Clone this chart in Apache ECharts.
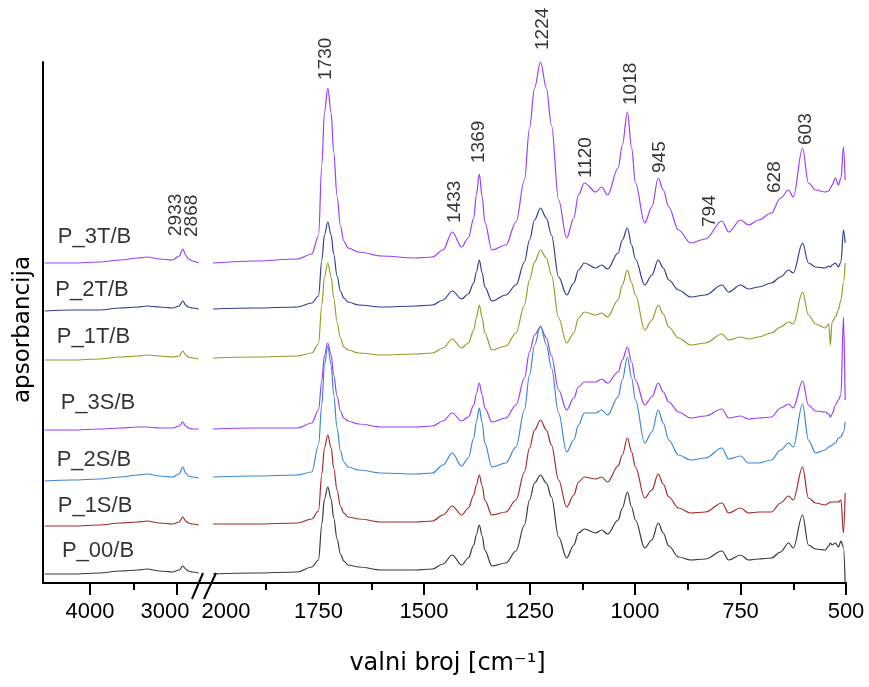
<!DOCTYPE html>
<html><head><meta charset="utf-8">
<script src="https://cdn.jsdelivr.net/npm/echarts@6/dist/echarts.min.js"></script>
<style>html,body{margin:0;padding:0;background:#fff}#c{width:869px;height:687px}</style>
</head><body><div id="c"></div>
<script>
// ---- data (absorbance, arbitrary stacked units) ----
const wnLeft = [4520, 4200, 3900, 3650, 3450, 3345, 3200, 3050, 2975, 2933, 2900, 2868, 2820, 2750];
const wnRight = [2000, 1900, 1800, 1766, 1750, 1742, 1736, 1728, 1720, 1714,
  1706, 1698, 1690, 1680, 1655, 1600, 1520, 1480, 1455, 1433,
  1411, 1395, 1382, 1376, 1369, 1362, 1356, 1339, 1306, 1282,
  1262, 1250, 1238, 1224, 1210, 1198, 1181, 1162, 1145, 1134,
  1120, 1093, 1079, 1065, 1040, 1030, 1018, 1008, 999, 977,
  960, 945, 933, 920, 897, 868, 833, 794, 778, 750,
  731, 707, 677, 655, 636, 625, 603, 589, 572, 549,
  541, 537, 533, 525, 518, 512, 506, 502];
const sampleNames = ['P_3T/B', 'P_2T/B', 'P_1T/B', 'P_3S/B', 'P_2S/B', 'P_1S/B', 'P_00/B'];

const left_P3T = [320, 320, 321, 323, 325, 326, 324, 323, 327, 334, 328, 324, 322, 320];
const left_P2T = [272, 273, 273, 275, 276, 277, 276, 275, 277, 282, 278, 276, 275, 274];
const left_P1T = [223, 223, 224, 226, 227, 228, 227, 226, 227, 232, 228, 226, 225, 224];
const left_P3S = [153, 153, 154, 155, 156, 156, 155, 155, 157, 161, 157, 155, 154, 154];
const left_P2S = [102, 103, 104, 106, 108, 109, 107, 106, 109, 116, 110, 107, 106, 105];
const left_P1S = [57, 57, 58, 60, 61, 62, 60, 59, 61, 66, 62, 60, 59, 58];
const left_P00 = [9, 9, 10, 12, 13, 14, 12, 11, 13, 17, 14, 12, 11, 10];

const right_P3T = [320, 322, 324, 329, 347, 419, 470, 495, 470, 431,
  387, 357, 342, 335, 331, 327, 325, 326, 333, 351,
  336, 345, 365, 388, 409, 386, 361, 333, 338, 361,
  403, 455, 495, 521, 495, 458, 383, 345, 365, 388,
  400, 391, 396, 388, 415, 438, 471, 435, 400, 360,
  376, 405, 393, 376, 353, 340, 344, 362, 351, 363,
  358, 363, 370, 385, 393, 386, 435, 400, 393, 391,
  392, 395, 398, 405, 398, 405, 436, 403];
const right_P2T = [274, 275, 276, 280, 287, 323, 348, 361, 348, 329,
  307, 292, 285, 281, 278, 276, 277, 278, 283, 292,
  284, 289, 300, 311, 323, 310, 296, 282, 288, 298,
  321, 343, 363, 375, 365, 348, 306, 288, 300, 313,
  320, 315, 318, 314, 330, 343, 355, 338, 324, 298,
  308, 323, 315, 303, 293, 286, 288, 298, 291, 298,
  294, 296, 300, 306, 313, 310, 340, 320, 316, 315,
  317, 316, 318, 320, 316, 321, 353, 340];
const right_P1T = [225, 226, 227, 230, 239, 279, 306, 320, 306, 285,
  261, 245, 236, 233, 230, 228, 229, 230, 235, 244,
  235, 240, 253, 265, 278, 265, 250, 233, 237, 250,
  278, 303, 321, 333, 325, 308, 265, 240, 250, 265,
  271, 268, 270, 266, 283, 298, 313, 300, 288, 253,
  263, 278, 269, 256, 245, 238, 240, 249, 243, 246,
  244, 246, 250, 256, 261, 259, 291, 268, 259, 255,
  259, 238, 261, 266, 273, 283, 300, 320];
const right_P3S = [154, 155, 155, 160, 173, 203, 228, 240, 228, 208,
  187, 172, 165, 162, 159, 156, 156, 157, 162, 170,
  162, 166, 178, 189, 200, 188, 175, 161, 165, 178,
  205, 231, 248, 256, 245, 227, 193, 173, 185, 196,
  201, 201, 204, 200, 211, 223, 236, 221, 203, 178,
  186, 200, 191, 181, 171, 165, 167, 174, 165, 167,
  164, 165, 166, 175, 179, 175, 202, 178, 172, 171,
  169, 166, 169, 178, 183, 188, 266, 183];
const right_P2S = [106, 107, 108, 111, 138, 179, 218, 237, 218, 188,
  155, 132, 121, 116, 113, 110, 109, 110, 118, 130,
  117, 125, 145, 161, 175, 160, 140, 116, 120, 136,
  173, 208, 238, 257, 238, 215, 170, 131, 143, 158,
  170, 170, 173, 168, 186, 203, 226, 205, 183, 140,
  151, 173, 160, 143, 128, 123, 125, 135, 124, 127,
  120, 120, 123, 133, 140, 136, 179, 143, 130, 133,
  136, 137, 138, 140, 145, 146, 151, 161];
const right_P1S = [59, 59, 60, 64, 72, 109, 135, 148, 135, 115,
  93, 77, 70, 66, 64, 61, 61, 62, 68, 77,
  68, 75, 88, 98, 108, 97, 83, 68, 71, 83,
  111, 135, 153, 163, 153, 138, 103, 76, 88, 101,
  106, 104, 106, 101, 117, 128, 145, 131, 116, 85,
  93, 109, 99, 86, 75, 70, 71, 80, 70, 75,
  70, 71, 71, 80, 87, 83, 116, 85, 80, 78,
  80, 81, 81, 81, 81, 83, 50, 90];
const right_P00 = [9, 10, 11, 16, 23, 59, 84, 96, 84, 65,
  44, 29, 22, 18, 16, 13, 13, 14, 19, 28,
  18, 25, 38, 48, 58, 47, 33, 17, 20, 32,
  58, 83, 100, 108, 100, 86, 46, 25, 38, 50,
  54, 50, 53, 49, 63, 75, 91, 76, 63, 35,
  43, 60, 50, 37, 26, 23, 24, 32, 23, 28,
  23, 24, 25, 31, 40, 35, 68, 38, 34, 33,
  37, 40, 38, 40, 36, 42, 36, 0];

const leftValues = [left_P3T, left_P2T, left_P1T, left_P3S, left_P2S, left_P1S, left_P00];
const rightValues = [right_P3T, right_P2T, right_P1T, right_P3S, right_P2S, right_P1S, right_P00];

// peak annotations (text, anchor wavenumber, anchor height)
const peakText = ['1730', '1433', '1369', '1224', '1120', '1018', '945', '794', '628', '603'];
const peakAnchorWn = [1732, 1427, 1371, 1219, 1116, 1009, 941, 824, 668, 596];
const peakAnchorY = [503, 360, 420, 533, 405, 478, 410, 356, 390, 438];
const peakTextLeft = ['2933', '2868'];
const peakAnchorWnLeft = [3017, 2833];
const peakAnchorYLeft = [347, 346];
// sample name anchors
const nameAnchorWn = [3948, 3977, 3960, 3908, 3954, 3942, 3908];
const nameAnchorY = [346, 293, 246, 180, 123, 77, 32];

// ---- style ----
const colors = ['#9b3dff', '#2f3f8f', '#9a9a28', '#9b3dff', '#3a86d4', '#a52a2a', '#3a3a3a'];
const SANS = 'Liberation Sans, Arial, sans-serif';
const GOTHIC = 'DejaVu Sans, sans-serif';
const YMAX = 521;

const chart = echarts.init(document.getElementById('c'), null, {renderer: 'canvas'});

const series = [];
sampleNames.forEach((n, k) => {
  series.push({
    name: n, type: 'line', xAxisIndex: 0, yAxisIndex: 0,
    data: wnLeft.map((w, i) => [w, leftValues[k][i]]),
    showSymbol: false, smooth: 0.35, smoothMonotone: 'x', clip: false,
    lineStyle: {color: colors[k], width: 1.2}, silent: true, z: 2
  });
  series.push({
    name: n, type: 'line', xAxisIndex: 2, yAxisIndex: 1,
    data: wnRight.map((w, i) => [w, rightValues[k][i]]),
    showSymbol: false, smooth: 0.35, smoothMonotone: 'x', clip: false,
    lineStyle: {color: colors[k], width: 1.2}, silent: true, z: 2
  });
});

const peakLabel = {
  show: true, position: 'top', distance: 0, rotate: 90, align: 'left', verticalAlign: 'middle',
  fontSize: 19, fontFamily: SANS, color: '#000', formatter: '{b}'
};
series.push({
  type: 'scatter', xAxisIndex: 2, yAxisIndex: 1, symbolSize: 0, clip: false, silent: true,
  data: peakText.map((t, i) => ({name: t, value: [peakAnchorWn[i], peakAnchorY[i]]})),
  label: peakLabel, z: 5
});
series.push({
  type: 'scatter', xAxisIndex: 0, yAxisIndex: 0, symbolSize: 0, clip: false, silent: true,
  data: peakTextLeft.map((t, i) => ({name: t, value: [peakAnchorWnLeft[i], peakAnchorYLeft[i]]})),
  label: peakLabel, z: 5
});
series.push({
  type: 'scatter', xAxisIndex: 0, yAxisIndex: 0, symbolSize: 0, clip: false, silent: true,
  data: sampleNames.map((t, i) => ({name: t, value: [nameAnchorWn[i], nameAnchorY[i]]})),
  label: {show: true, position: 'inside', align: 'center', verticalAlign: 'middle',
    fontSize: 22, fontFamily: SANS, color: '#000', formatter: '{b}'},
  z: 5
});

const lblBase = {fontSize: 22, fontFamily: SANS, color: '#000'};
const option = {
  animation: false,
  backgroundColor: '#fff',
  grid: [
    {left: 43, top: 62, width: 170, height: 521},
    {left: 213, top: 62, width: 633, height: 521}
  ],
  xAxis: [
    { gridIndex: 0, type: 'value', min: 2586, max: 4540, inverse: true, position: 'bottom',
      axisLine: {show: true, lineStyle: {color: '#000', width: 2}},
      axisTick: {show: true, length: 12, lineStyle: {color: '#000', width: 2}, customValues: [3000, 4000]},
      axisLabel: {show: true, customValues: [3000, 4000], margin: 18, ...lblBase,
        formatter: v => v === 3000 ? '{s|3000}' : '{n|' + v + '}',
        rich: {s: {...lblBase, padding: [0, 24, 0, 0]}, n: {...lblBase}}},
      splitLine: {show: false} },
    { gridIndex: 0, type: 'value', min: 2586, max: 4540, inverse: true, position: 'bottom',
      axisLine: {show: false},
      axisTick: {show: true, length: 7, lineStyle: {color: '#000', width: 2}, customValues: [3500]},
      axisLabel: {show: false}, splitLine: {show: false} },
    { gridIndex: 1, type: 'value', min: 500, max: 2000, inverse: true, position: 'bottom',
      axisLine: {show: true, lineStyle: {color: '#000', width: 2}},
      axisTick: {show: true, length: 12, lineStyle: {color: '#000', width: 2}, customValues: [500, 750, 1000, 1250, 1500, 1750]},
      axisLabel: {show: true, customValues: [500, 750, 1000, 1250, 1500, 1750, 2000], margin: 18, ...lblBase,
        formatter: v => v === 2000 ? '{s|2000}' : '{n|' + v + '}',
        rich: {s: {...lblBase, padding: [0, 0, 0, 26]}, n: {...lblBase}}},
      splitLine: {show: false} },
    { gridIndex: 1, type: 'value', min: 500, max: 2000, inverse: true, position: 'bottom',
      axisLine: {show: false},
      axisTick: {show: true, length: 7, lineStyle: {color: '#000', width: 2}, customValues: [625, 875, 1125, 1375, 1625, 1875]},
      axisLabel: {show: false}, splitLine: {show: false} }
  ],
  yAxis: [
    { gridIndex: 0, type: 'value', min: 0, max: YMAX,
      axisLine: {show: true, lineStyle: {color: '#000', width: 2}},
      axisTick: {show: false}, axisLabel: {show: false}, splitLine: {show: false},
      name: 'apsorbancija', nameLocation: 'middle', nameGap: 8,
      nameTextStyle: {fontSize: 23, fontFamily: GOTHIC, color: '#000', padding: [0, 14, 0, 0]} },
    { gridIndex: 1, type: 'value', min: 0, max: YMAX, show: false }
  ],
  series: series
};
chart.setOption(option);

// decorations: axis break marks and x-axis title
const o = chart.convertToPixel({xAxisIndex: 0, yAxisIndex: 0}, [2586, 0]);
const mid = (chart.convertToPixel({xAxisIndex: 0, yAxisIndex: 0}, [4540, 0])[0] +
             chart.convertToPixel({xAxisIndex: 2, yAxisIndex: 1}, [500, 0])[0]) / 2;
chart.setOption({
  graphic: [
    {type: 'line', shape: {x1: o[0] - 21, y1: o[1] + 16, x2: o[0] - 10, y2: o[1] - 10},
     style: {stroke: '#000', lineWidth: 2}, z: 10},
    {type: 'line', shape: {x1: o[0] - 9, y1: o[1] + 16, x2: o[0] + 3, y2: o[1] - 10},
     style: {stroke: '#000', lineWidth: 2}, z: 10},
    {type: 'text', x: mid + 3, y: 664,
     style: {text: 'valni broj [cm⁻¹]', font: '24px DejaVu Sans', fill: '#000',
             textAlign: 'center', textVerticalAlign: 'middle'}, z: 10}
  ]
});
</script>
</body></html>
